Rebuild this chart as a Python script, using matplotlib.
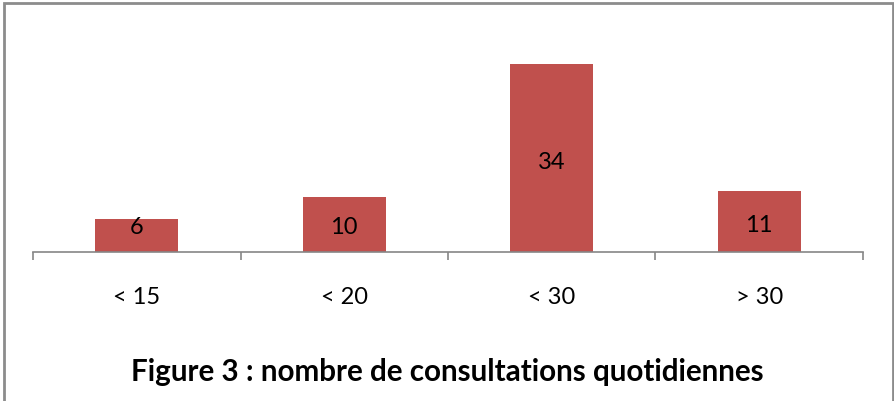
import numpy as np
import matplotlib
matplotlib.use('Agg')
import matplotlib.pyplot as plt

categories = ['< 15', '< 20', '< 30', '> 30']
values = [6, 10, 34, 11]
title = 'Figure 3 : nombre de consultations quotidiennes'

bar_color = '#C0504D'
axis_color = '#868686'

plt.rcParams['font.family'] = ['Lato', 'DejaVu Sans']

fig = plt.figure(figsize=(8.95, 4.02), dpi=100)
ax = fig.add_axes([33/895, 1-253/402, 830/895, 221/402])

ymax = 40
px_per_unit = 221 / ymax

x = np.arange(len(categories))
bars = ax.bar(x, values, width=0.4, color=bar_color, zorder=2)
for b, v in zip(bars, values):
    # centered in the bar, but never closer than ~25px to the axis
    y = max(v/2 - 3/px_per_unit, 25/px_per_unit)
    ax.text(b.get_x() + b.get_width()/2, y, str(v), ha='center', va='center',
            fontsize=17, color='black')

ax.set_xlim(-0.5, len(categories) - 0.5)
ax.set_ylim(0, ymax)
for s in ['top', 'right', 'left']:
    ax.spines[s].set_visible(False)
ax.spines['bottom'].set_color(axis_color)
ax.spines['bottom'].set_linewidth(1.2)
ax.set_yticks([])
ax.set_xticks(np.arange(-0.5, len(categories)), minor=False)
ax.tick_params(axis='x', length=6, width=1.2, color=axis_color, labelbottom=False)
for i, c in enumerate(categories):
    ax.text(i, -0.2, c, transform=ax.get_xaxis_transform(), ha='center', va='center',
            fontsize=17)

fig.text(0.5, 1-372/402, title, ha='center', va='center', fontsize=21.3, fontweight='bold')

# outer border
fig.patches.append(plt.Rectangle((4/895, -0.01), 889/895, 1-4/402 + 0.01, transform=fig.transFigure,
                                 fill=False, edgecolor='#8c8c8c', linewidth=2))

fig.savefig('out.png', dpi=100)
